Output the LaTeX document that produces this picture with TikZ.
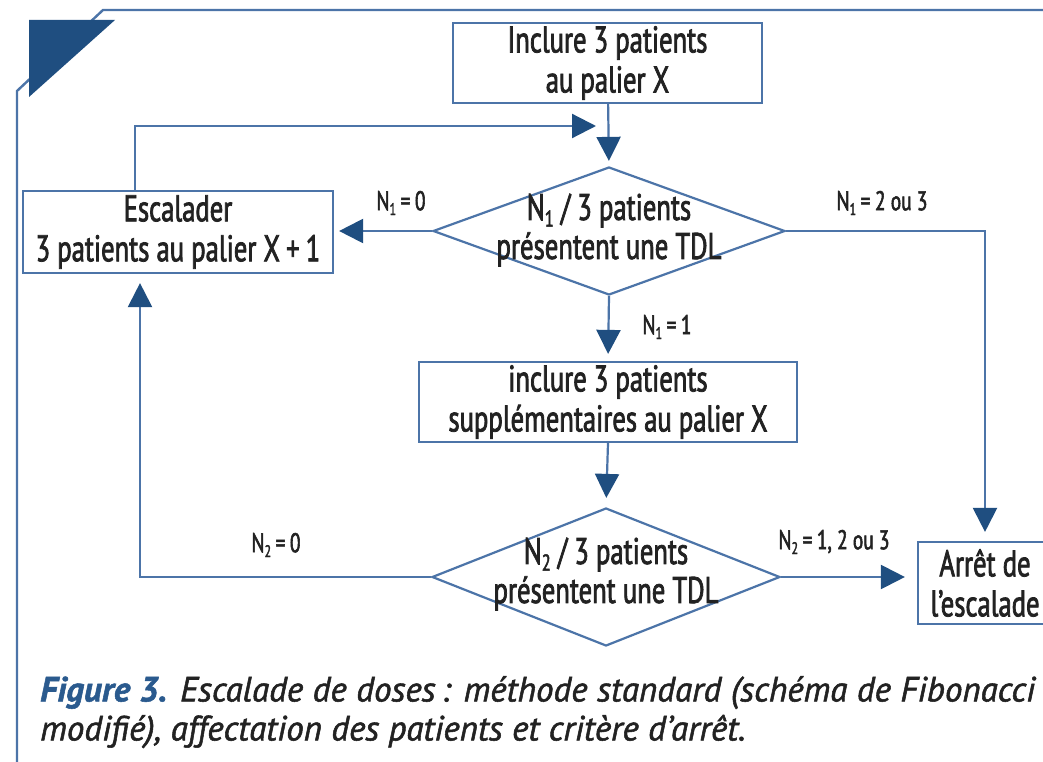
\documentclass[tikz,border=0pt]{standalone}
\usepackage{fontspec}
\setmainfont{PT Sans}[FakeStretch=0.72, FakeBold=2]
\newfontfamily\capfont{PT Sans}[FakeStretch=1.0, FakeBold=1.5]
\usetikzlibrary{arrows.meta,shapes.geometric}
\definecolor{lineblue}{HTML}{4C74A8}
\definecolor{darkblue}{HTML}{1F4E80}
\definecolor{capblue}{HTML}{2A5A8E}
\definecolor{inkgray}{HTML}{222222}
\newcommand\idx[1]{\raisebox{-0.18em}{\fontsize{0.62em}{0.62em}\selectfont #1}}

\begin{document}
\begin{tikzpicture}[x=1pt,y=-1pt,
  box/.style={draw=lineblue, line width=2.2pt, fill=white, inner sep=0pt,
    text=inkgray, align=center, font=\fontsize{37}{40}\selectfont},
  choice/.style={shape=diamond, draw=lineblue, line width=2.2pt, inner sep=0pt},
  choicetext/.style={text=inkgray, align=center, inner sep=0pt,
    font=\fontsize{37}{39}\selectfont},
  lbl/.style={text=inkgray, inner sep=0pt, font=\fontsize{27}{30}\selectfont},
  flow/.style={draw=lineblue, line width=2.2pt,
    -{Triangle[length=24pt,width=24pt,color=darkblue]}},
]
\useasboundingbox (0,0) rectangle (1043,762);
\fill[white] (0,0) rectangle (1043,762);

% page frame with chamfered corner and corner mark
\draw[lineblue, line width=2.4pt] (1050,10) -- (103,10) -- (17,91) -- (17,770);
\fill[darkblue] (29,20) -- (115,20) -- (29,97) -- cycle;

% steps and decisions
\node[box, minimum width=309pt, minimum height=80pt] (start) at (607.5,63)
  {Inclure 3 patients\\au palier X};
\node[box, minimum width=310pt, minimum height=82pt] (esc) at (178,232)
  {Escalader\\3 patients au palier X\,+\,1};
\node[box, minimum width=378pt, minimum height=80pt] (more) at (608,402)
  {inclure 3 patients\\supplémentaires au palier X};
\node[box, minimum width=134pt, minimum height=82pt] (stop) at (985,583)
  {Arrêt de\\l’escalade};

\node[choice, minimum width=352pt, minimum height=128pt] (d1) at (609,231) {};
\node[choicetext] (d1t) at (609,230) {N\idx{1} / 3 patients\\présentent une TDL};
\node[choice, minimum width=348pt, minimum height=138pt] (d2) at (606,577) {};
\node[choicetext] (d2t) at (606,574) {N\idx{2} / 3 patients\\présentent une TDL};

% connectors
\coordinate (loopend) at (596,126);
\draw[flow, shorten >=5pt] (start) -- (d1.north);
\draw[flow] (esc.north -| 135,0) |- (loopend);
\draw[flow, shorten >=5pt] (d1.west) -- (esc.east |- d1.west);
\draw[flow, shorten >=9pt] (d1.east) -| (stop.north);
\draw[flow, shorten >=7pt] (d1.south) -- (more.north);
\draw[flow, shorten >=9pt] (more.south) -- (d2.north);
\draw[flow, shorten >=9pt] (d2.west) -| (esc.south -| 140,0);
\draw[flow, shorten >=12pt] (d2.east) -- (stop.west |- d2.east);

% branch labels
\node[lbl] (l1) at (401,203) {N\idx{1}\,=\,0};
\node[lbl] (l2) at (882,203) {N\idx{1}\,=\,2 ou 3};
\node[lbl] (l3) at (667,327) {N\idx{1}\,=\,1};
\node[lbl] (l4) at (276,545) {N\idx{2}\,=\,0};
\node[lbl] (l5) at (834,542) {N\idx{2}\,=\,1, 2 ou 3};

% caption
\node[anchor=north west, inner sep=0pt, text width=995pt, align=justify,
  text=inkgray, font=\capfont\fontsize{35}{39}\selectfont\itshape] (cap) at (40,676)
  {\textcolor{capblue}{\bfseries Figure 3.} Escalade de doses\,: méthode standard (schéma de Fibonacci\linebreak
   modifié), affectation des patients et critère d’arrêt.};
\end{tikzpicture}
\end{document}
